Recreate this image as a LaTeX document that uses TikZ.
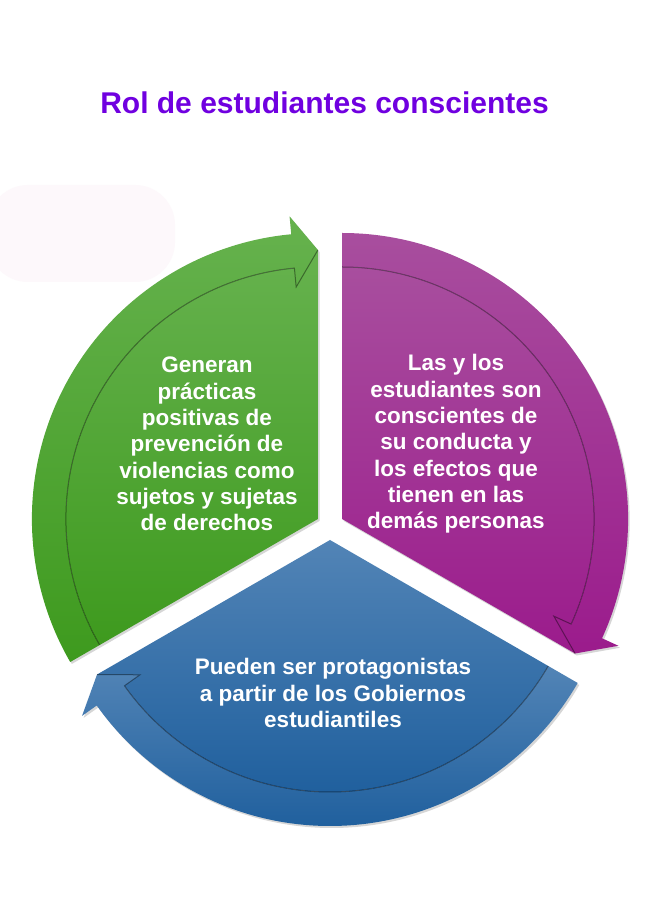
\documentclass[tikz,border=0pt]{standalone}
\usepackage{fontspec}
\setmainfont{Liberation Sans}
\definecolor{titlecol}{RGB}{112,0,224}
\definecolor{gtop}{RGB}{102,178,78}
\definecolor{gbot}{RGB}{62,154,30}
\definecolor{ptop}{RGB}{168,78,158}
\definecolor{pbot}{RGB}{155,27,140}
\definecolor{btop}{RGB}{82,132,182}
\definecolor{bbot}{RGB}{32,96,158}
\definecolor{faint}{RGB}{253,248,251}
\tikzset{
  segtext/.style={text=white, align=center, font=\bfseries\fontsize{22.5}{26.3}\selectfont},
  innerline/.style={black, opacity=0.4, line width=1pt},
  shadowfill/.style={black, opacity=0.16}
}
% #1 apex x,y  #2 start angle  #3 end (arrow tip) angle  #4 top colour  #5 bottom colour
\newcommand{\cycseg}[5]{%
  \pgfmathsetmacro{\bang}{#3+5.35}%
  \begin{scope}[shift={(#1)}, xshift=1.6pt, yshift=-2pt]
    \fill[shadowfill] (0,0) -- (#2:286) arc[start angle=#2, end angle=\bang, radius=286]
      -- (\bang:304) -- (#3:269) -- cycle;
  \end{scope}
  \begin{scope}[shift={(#1)}]
    \shade[top color=#4, bottom color=#5] (0,0) -- (#2:252)
      arc[start angle=#2, end angle=\bang, radius=252] -- (#3:269) -- cycle;
    \shade[top color=#4, bottom color=#5] (#2:286)
      arc[start angle=#2, end angle=\bang, radius=286] -- (\bang:304) -- (#3:269)
      -- (\bang:233) -- (\bang:252) arc[start angle=\bang, end angle=#2, radius=252] -- cycle;
    \draw[innerline] (#2:252) arc[start angle=#2, end angle=\bang, radius=252]
      -- (\bang:233) -- (#3:269);
  \end{scope}
}
\begin{document}
\begin{tikzpicture}[x=1pt, y=1pt]
  \useasboundingbox (0,0) rectangle (650,900);
  \fill[white] (0,0) rectangle (650,900);
  \fill[faint, rounded corners=40pt] (-12,618) rectangle (175,715);

  \node[text=titlecol, font=\bfseries\fontsize{30}{36}\selectfont] (title) at (324.5,797) {Rol de estudiantes conscientes};

  \cycseg{317.9,381}{210}{90}{gtop}{gbot}
  \cycseg{342.1,381}{90}{-30}{ptop}{pbot}
  \cycseg{330,360}{330}{210}{btop}{bbot}

  \node[segtext] (green) at (207,456) {Generan\\prácticas\\positivas de\\prevención de\\violencias como\\sujetos y sujetas\\de derechos};
  \node[segtext] (purple) at (456,456) {Las y los\\estudiantes son\\conscientes de\\su conducta y\\los efectos que\\tienen en las\\demás personas};
  \node[segtext] (blue) at (333,207) {Pueden ser protagonistas\\a partir de los Gobiernos\\estudiantiles};
\end{tikzpicture}
\end{document}
